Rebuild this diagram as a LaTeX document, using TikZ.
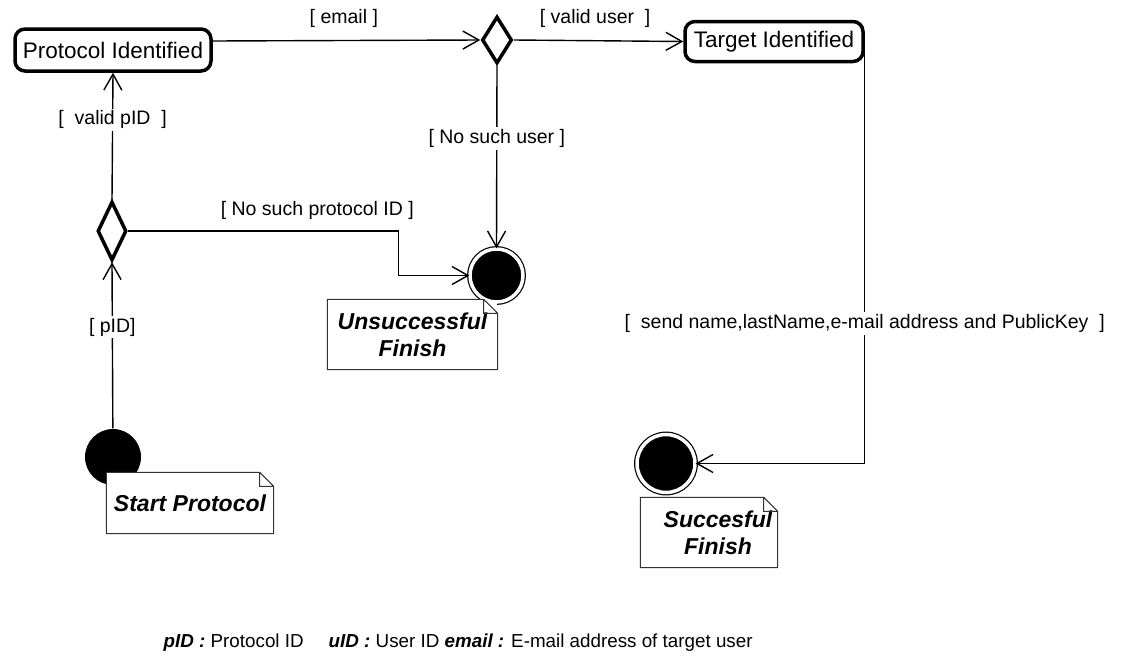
\documentclass[tikz,border=0pt]{standalone}
\usepackage{fontspec}
\setmainfont{Liberation Sans}
\usetikzlibrary{shapes.geometric,arrows.meta}

\tikzset{
  actbox/.style={draw, rounded corners=10pt, line width=3.5pt, inner sep=0pt, font=\fontsize{22.5}{26}\selectfont},
  decision/.style={draw, diamond, line width=3.5pt, inner sep=0pt},
  startdot/.style={circle, fill=black, inner sep=0pt, minimum size=56pt},
  enddot/.style={circle, draw, fill=black, line width=1.2pt, double=white, double distance=3.5pt, inner sep=0pt},
  notebox/.style={fill=white, inner sep=0pt, align=center, font=\fontsize{23}{27}\selectfont\bfseries\itshape},
  notefold/.style={line width=1pt, black!80},
  lbl/.style={fill=white, inner sep=2pt, font=\fontsize{19.5}{22}\selectfont},
  legend/.style={anchor=base west, inner sep=0pt, font=\fontsize{18.8}{22}\selectfont}
}

\begin{document}
\begin{tikzpicture}[x=1pt, y=-1pt, line width=1.4pt, >={Straight Barb[length=16pt,width=18pt]}]
  \useasboundingbox (0,0) rectangle (1123,664);
  % nodes
  \node [actbox, minimum width=196pt, minimum height=42pt] (pid) at (113,50) {Protocol Identified};
  \node [actbox, minimum width=178pt, minimum height=40pt] (tgt) at (774,41.5) {Target Identified};
  \node [decision, minimum width=30pt, minimum height=47pt] (dia1) at (497,40) {};
  \node [decision, minimum width=29pt, minimum height=59pt] (dia2) at (112,231) {};
  \node [startdot] (start) at (113,457) {};
  \node [enddot, minimum size=53pt] (unsucc) at (496.5,275.5) {};
  \node [enddot, minimum size=58pt] (succ) at (666,463.5) {};
  % transitions
  \draw [->] (start) -- node[lbl, pos=0.61] {[ pID]} (dia2.south);
  \draw [->] (dia2.north) -- node[lbl, pos=0.63] {[\ \ valid pID\ \ ]} (pid.south);
  \draw [->] ([yshift=9pt]pid.east) -- node[lbl, above=10pt, pos=0.49] {[ email ]} (dia1.west);
  \draw [->] (dia1.east) -- node[lbl, above=10pt, pos=0.48] {[ valid user\ \ ]} (tgt.west);
  \draw [->] (dia1.south) -- node[lbl, pos=0.40] {[ No such user ]} (unsucc.north);
  \draw [->] (dia2.east) -- node[lbl, above=9pt, pos=0.7] {[ No such protocol ID ]} ++(270,0) |- (unsucc.west);
  \draw [->] ([yshift=-10pt]tgt.east) |- node[lbl, pos=0.33] {[\ \ send name,lastName,e-mail address and PublicKey\ \ ]} (succ.east);
  % notes
  \node [notebox, minimum width=166pt, minimum height=60pt] (startnote) at (190,503) {Start Protocol};
  \node [notebox, minimum width=169pt, minimum height=69pt] (unsuccnote) at (412.5,334.5) {Unsuccessful\\Finish};
  \node [notebox, minimum width=136pt, minimum height=69pt] (succnote) at (709,532.5) {\hspace*{18pt}Succesful\\\hspace*{18pt}Finish};
  \foreach \n in {startnote,unsuccnote,succnote}
    \draw [notefold] (\n.south west) -- (\n.north west) -- ([xshift=-14pt]\n.north east)
      -- ([yshift=-14pt]\n.north east) -- (\n.south east) -- cycle
      ([xshift=-14pt]\n.north east) |- ([yshift=-14pt]\n.north east);
  % legend
  \node [legend] (leg1) at (163,647) {\textbf{\textit{pID :}} Protocol ID};
  \node [legend] (leg2) at (328,647) {\textbf{\textit{uID :}} User ID};
  \node [legend] (leg3) at (444,647) {\textbf{\textit{email :}} E-mail address of target user};
\end{tikzpicture}
\end{document}
